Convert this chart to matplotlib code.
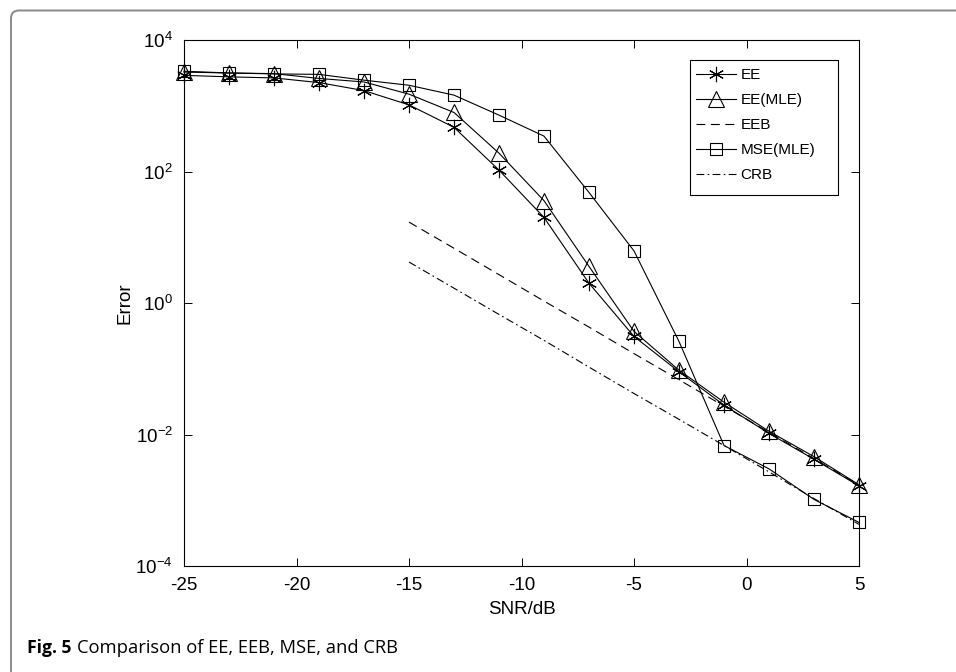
import numpy as np
import matplotlib
matplotlib.use("Agg")
import matplotlib.pyplot as plt
from matplotlib.patches import FancyBboxPatch, Rectangle
from matplotlib.ticker import LogLocator, NullLocator

# SNR grid (dB)
snr = [-25, -23, -21, -19, -17, -15, -13, -11, -9, -7, -5, -3, -1, 1, 3, 5]
snr_bound = [-15, -13, -11, -9, -7, -5, -3, -1, 1, 3, 5]

ee = [2900, 2750, 2650, 2250, 1700, 1030, 470, 105, 20, 2.0, 0.31,
      0.090, 0.028, 0.0104, 0.0042, 0.00165]
ee_mle = [3250, 3150, 3080, 2600, 2300, 1500, 790, 190, 36, 3.6, 0.37,
          0.095, 0.031, 0.0112, 0.0046, 0.00172]
eeb = [17, 6.8, 2.7, 1.07, 0.43, 0.17, 0.068, 0.027, 0.0108, 0.0043, 0.0017]
mse_mle = [3350, 3150, 3050, 3000, 2450, 2050, 1450, 720, 345, 48, 6.2,
           0.26, 0.0068, 0.0030, 0.00103, 0.00046]
crb = [4.2, 1.68, 0.67, 0.27, 0.106, 0.042, 0.017, 0.0068, 0.0027, 0.00106,
       0.00043]

labels = ["EE", "EE(MLE)", "EEB", "MSE(MLE)", "CRB"]

plt.rcParams['font.family'] = ['Liberation Sans', 'DejaVu Sans']
plt.rcParams['mathtext.fontset'] = 'custom'
plt.rcParams['mathtext.rm'] = 'Liberation Sans'
plt.rcParams['axes.unicode_minus'] = False

W, H = 956, 672
fig = plt.figure(figsize=(W/100, H/100), dpi=100)
ax = fig.add_axes([184/W, 1 - 566/H, 675/W, 526/H])

lw = 0.8
star = (6, 2, 0)
ax.plot(snr, ee, '-', color='k', lw=lw, marker=star, ms=11, mew=0.8,
        label=labels[0], clip_on=False)
ax.plot(snr, ee_mle, '-', color='k', lw=lw, marker='^', ms=11, mfc='none',
        mew=0.8, label=labels[1], clip_on=False)
ax.plot(snr_bound, eeb, color='k', lw=lw, ls=(0, (8, 5)), label=labels[2])
ax.plot(snr, mse_mle, '-', color='k', lw=lw, marker='s', ms=8, mfc='none',
        mew=0.8, label=labels[3], clip_on=False)
ax.plot(snr_bound, crb, color='k', lw=lw, ls=(0, (7, 3, 1.5, 3)),
        label=labels[4])

ax.set_yscale('log')
ax.set_xlim(-25, 5)
ax.set_ylim(1e-4, 1e4)
ax.set_xticks([-25, -20, -15, -10, -5, 0, 5])
ax.yaxis.set_major_locator(LogLocator(base=100))
ax.yaxis.set_minor_locator(NullLocator())
ax.tick_params(direction='in', top=True, right=True, length=6,
               labelsize=13.5, width=0.7, pad=8)
for s in ax.spines.values():
    s.set_linewidth(0.8)

ax.set_xlabel("SNR/dB", fontsize=13.5, labelpad=5)
ax.set_ylabel("Error", fontsize=13.5, labelpad=1)

# legend: entries without frame, box drawn separately (MATLAB-like padding)
leg = ax.legend(loc='upper left', bbox_to_anchor=(696/W, 1 - 68/H),
                bbox_transform=fig.transFigure, fontsize=11, frameon=False,
                handlelength=2.6, borderpad=0, labelspacing=0.72,
                handletextpad=0.3, borderaxespad=0)
fig.patches.append(Rectangle((690/W, 1 - 195/H), 148/W, 135/H,
                             transform=fig.transFigure, fill=False,
                             ec='k', lw=0.8))

# figure frame (top and left edges, rounded corner)
frame = FancyBboxPatch((0.11, -1.0), 12, 6.72 - 0.105 + 1.0,
                       boxstyle="round,pad=0,rounding_size=0.08",
                       transform=fig.dpi_scale_trans, fill=False,
                       ec='#8a8a8a', lw=1.4)
fig.patches.append(frame)

fig.text(27/W, 1 - 648/H, "Fig. 5", fontsize=12.6, fontweight='bold',
         family='Open Sans', va='center')
fig.text(77/W, 1 - 648/H, "Comparison of EE, EEB, MSE, and CRB",
         fontsize=13.2, family='Open Sans', va='center')

fig.savefig("out.png", dpi=100)
